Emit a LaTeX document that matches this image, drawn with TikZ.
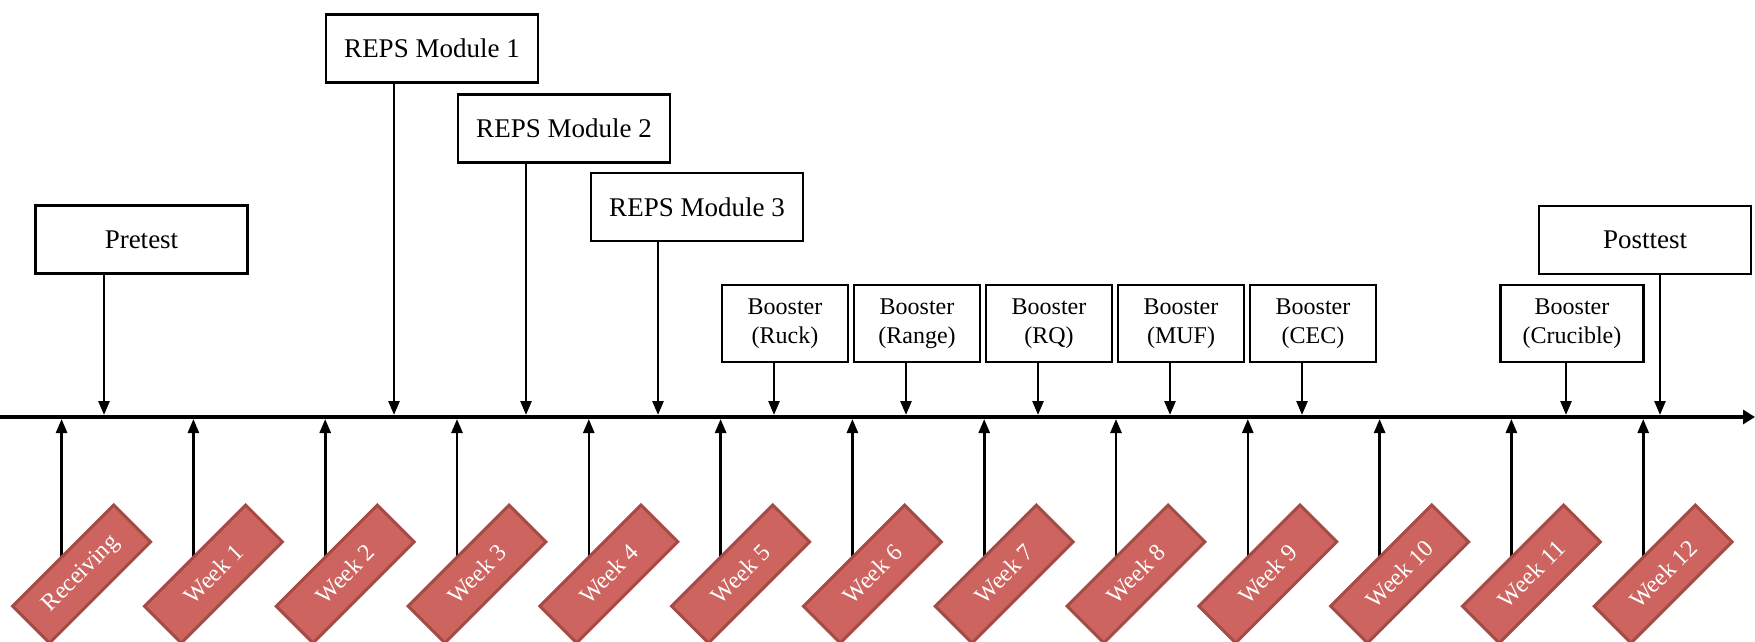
\documentclass[tikz,border=0pt]{standalone}
\usepackage{fontspec}
\setmainfont{Liberation Serif}
\usetikzlibrary{arrows.meta,backgrounds}
\definecolor{weekfill}{RGB}{205,100,95}
\definecolor{weekedge}{RGB}{165,75,70}
\begin{document}
\begin{tikzpicture}[x=1pt,y=-1pt,
  evbox/.style={draw, line width=2.2pt, minimum width=212pt, minimum height=68pt, inner sep=0pt, font=\fontsize{27}{30}\selectfont},
  boostbox/.style={draw, line width=2.2pt, minimum width=126pt, minimum height=77pt, inner sep=0pt, align=center, font=\fontsize{24}{29}\selectfont},
  weekbox/.style={draw=weekedge, fill=weekfill, line width=3pt, minimum width=143pt, minimum height=52pt, inner sep=0pt, rotate=45, text=white, font=\fontsize{24}{28}\selectfont},
  arr/.style={line width=2.6pt, -{Triangle[length=14pt,width=11pt]}, shorten >=2pt},
  axisline/.style={line width=4pt, -{Triangle[length=12pt,width=14pt]}}]
\useasboundingbox (0,0) rectangle (1755,642);

% axis
\coordinate (axL) at (0,417);
\coordinate (axR) at (1755,417);
\draw[axisline] (axL) -- (axR);

% top event boxes
\node[evbox] (pre)  at (141.5,239.5) {Pretest};
\node[evbox] (rep1) at (432,48.5)    {REPS Module 1};
\node[evbox] (rep2) at (564,128.5)   {REPS Module 2};
\node[evbox] (rep3) at (697,207)     {REPS Module 3};
\node[evbox] (post) at (1645,240)    {Posttest};

\node[boostbox] (b1) at (785,323.5)  {Booster\\(Ruck)};
\node[boostbox] (b2) at (917,323.5)  {Booster\\(Range)};
\node[boostbox] (b3) at (1049,323.5) {Booster\\(RQ)};
\node[boostbox] (b4) at (1181,323.5) {Booster\\(MUF)};
\node[boostbox] (b5) at (1313,323.5) {Booster\\(CEC)};
\node[boostbox, minimum width=143pt] (b6) at (1572,323.5) {Booster\\(Crucible)};

% points on the axis where top events land
\coordinate (dpre)  at (104,417);
\coordinate (drep1) at (394,417);
\coordinate (drep2) at (526,417);
\coordinate (drep3) at (658,417);
\coordinate (db1) at (774,417);
\coordinate (db2) at (906,417);
\coordinate (db3) at (1038,417);
\coordinate (db4) at (1170,417);
\coordinate (db5) at (1302,417);
\coordinate (db6) at (1566,417);
\coordinate (dpost) at (1660,417);

\foreach \n in {pre,rep1,rep2,rep3,b1,b2,b3,b4,b5,b6,post}
  \draw[arr] (\n.south -| d\n) -- (d\n);

% week boxes
\foreach \i/\lab in {0/Receiving,1/Week 1,2/Week 2,3/Week 3,4/Week 4,5/Week 5,6/Week 6,7/Week 7,8/Week 8,9/Week 9,10/Week 10,11/Week 11,12/Week 12}{
  \coordinate (t\i) at ({61.6+131.8*\i},417);
  \node[weekbox] (w\i) at ({81.6+131.8*\i},574) {\lab};
}
\begin{scope}[on background layer]
\foreach \i in {0,...,12}
  \draw[arr] (w\i.center -| t\i) -- (t\i);
\end{scope}
\end{tikzpicture}
\end{document}
